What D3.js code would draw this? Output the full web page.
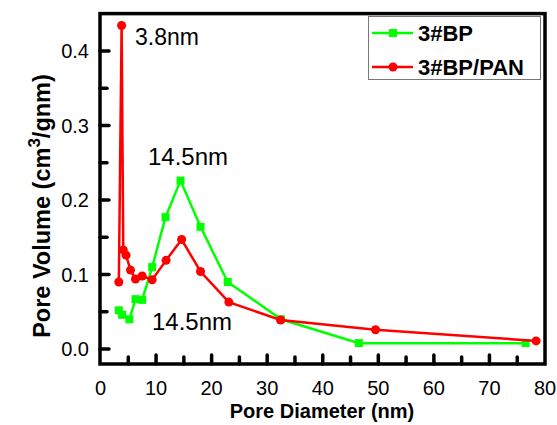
<!DOCTYPE html>
<html>
<head>
<meta charset="utf-8">
<script src="https://cdn.jsdelivr.net/npm/d3@7"></script>
<style>
  body { margin: 0; background: #fff; }
  text { font-family: "Liberation Sans", Arial, sans-serif; }
</style>
</head>
<body>
<div id="chart"></div>
<script>
// series: [pore diameter (nm), pore volume]
var bpX = [3.3, 3.9, 5.2, 6.3, 7.5, 9.3, 11.7, 14.4, 18.0, 22.9, 32.5, 46.5, 76.5];
var bpY = [0.052, 0.046, 0.040, 0.067, 0.066, 0.110, 0.177, 0.226, 0.164, 0.090, 0.040, 0.008, 0.008];

var panX = [3.3, 3.8, 4.1, 4.6, 5.4, 6.3, 7.5, 9.3, 11.8, 14.6, 18.0, 23.1, 32.4, 49.5, 78.4];
var panY = [0.090, 0.434, 0.133, 0.126, 0.106, 0.094, 0.098, 0.093, 0.119, 0.147, 0.104, 0.063, 0.039, 0.026, 0.011];

var xTicks = [0, 10, 20, 30, 40, 50, 60, 70, 80];
var yTicks = [0.0, 0.1, 0.2, 0.3, 0.4];

var W = 557, H = 425;
var svg = d3.select("#chart").append("svg")
  .attr("width", W)
  .attr("height", H);

var x = d3.scaleLinear().domain([0, 80]).range([100.5, 545]);
var y = d3.scaleLinear().domain([-0.02, 0.45]).range([364, 13.6]);

// frame
svg.append("rect")
  .attr("x", 100)
  .attr("y", 13.6)
  .attr("width", 445)
  .attr("height", 350.4)
  .attr("fill", "none")
  .attr("stroke", "#000")
  .attr("stroke-width", 3.5);

// inward ticks every 5 on x and every 0.05 on y
var xAll = d3.range(5, 80, 5);
svg.append("g").selectAll("path")
  .data(xAll)
  .enter().append("path")
    .attr("d", d => "M" + x(d) + ",364V" + (d % 10 === 0 ? 355 : 357))
    .attr("stroke", "#000")
    .attr("stroke-width", 3.5)
    .attr("stroke-linecap", "round");

var yAll = d3.range(0, 9).map(i => i * 0.05);
svg.append("g").selectAll("path")
  .data(yAll)
  .enter().append("path")
    .attr("d", (d, i) => "M100," + y(d) + "H" + (i % 2 === 0 ? 109 : 107))
    .attr("stroke", "#000")
    .attr("stroke-width", 3.5)
    .attr("stroke-linecap", "round");

// tick labels
svg.append("g").selectAll("text")
  .data(xTicks)
  .enter().append("text")
    .attr("x", d => x(d))
    .attr("y", 395)
    .attr("text-anchor", "middle")
    .style("font-size", "20px")
    .text(d => d);

svg.append("g").selectAll("text")
  .data(yTicks)
  .enter().append("text")
    .attr("x", 89)
    .attr("y", d => y(d))
    .attr("dy", "0.36em")
    .attr("text-anchor", "end")
    .style("font-size", "20px")
    .text(d => d.toFixed(1));

// axis titles
svg.append("text")
  .attr("x", 322)
  .attr("y", 418)
  .attr("text-anchor", "middle")
  .style("font-size", "20px")
  .style("font-weight", "bold")
  .text("Pore Diameter (nm)");

var yt = svg.append("text")
  .attr("transform", "translate(50,206) rotate(-90)")
  .attr("text-anchor", "middle")
  .style("font-size", "23.5px")
  .style("font-weight", "bold");
yt.append("tspan").text("Pore Volume (cm");
yt.append("tspan").attr("dy", -10).style("font-size", "17px").text("3");
yt.append("tspan").attr("dy", 10).text("/gnm)");

var line = d3.line()
  .x(d => x(d[0]))
  .y(d => y(d[1]));

var bp = bpX.map((d, i) => [d, bpY[i]]);
var pan = panX.map((d, i) => [d, panY[i]]);

svg.append("path")
  .datum(bp)
  .attr("fill", "none")
  .attr("stroke", "#00ff00")
  .attr("stroke-width", 2.5)
  .attr("d", line);

svg.append("g").selectAll("rect")
  .data(bp)
  .enter().append("rect")
    .attr("x", d => x(d[0]) - 4)
    .attr("y", d => y(d[1]) - 4)
    .attr("width", 8)
    .attr("height", 8)
    .attr("fill", "#00ff00");

svg.append("path")
  .datum(pan)
  .attr("fill", "none")
  .attr("stroke", "#ff0000")
  .attr("stroke-width", 2.5)
  .attr("d", line);

svg.append("g").selectAll("circle")
  .data(pan)
  .enter().append("circle")
    .attr("cx", d => x(d[0]))
    .attr("cy", d => y(d[1]))
    .attr("r", 4.5)
    .attr("fill", "#ff0000");

// annotations
svg.append("text").attr("x", 135).attr("y", 45)
  .style("font-size", "23px").text("3.8nm");
svg.append("text").attr("x", 148).attr("y", 165)
  .style("font-size", "24px").text("14.5nm");
svg.append("text").attr("x", 152).attr("y", 330)
  .style("font-size", "24px").text("14.5nm");

// legend
svg.append("rect")
  .attr("x", 368.5)
  .attr("y", 16.5)
  .attr("width", 172)
  .attr("height", 63)
  .attr("fill", "#fff")
  .attr("stroke", "#777")
  .attr("stroke-width", 1);

var leg = [
  { name: "3#BP", color: "#00ff00", cy: 33, shape: "square" },
  { name: "3#BP/PAN", color: "#ff0000", cy: 67, shape: "circle" }
];

leg.forEach(function (l) {
  svg.append("line")
    .attr("x1", 372).attr("x2", 413)
    .attr("y1", l.cy).attr("y2", l.cy)
    .attr("stroke", l.color)
    .attr("stroke-width", 2.5);
  if (l.shape === "square") {
    svg.append("rect")
      .attr("x", 389).attr("y", l.cy - 4)
      .attr("width", 8).attr("height", 8)
      .attr("fill", l.color);
  } else {
    svg.append("circle")
      .attr("cx", 393).attr("cy", l.cy)
      .attr("r", 4.5)
      .attr("fill", l.color);
  }
  svg.append("text")
    .attr("x", 418)
    .attr("y", l.cy)
    .attr("dy", "0.36em")
    .style("font-size", "22px")
    .style("font-weight", "bold")
    .text(l.name);
});
</script>
</body>
</html>
